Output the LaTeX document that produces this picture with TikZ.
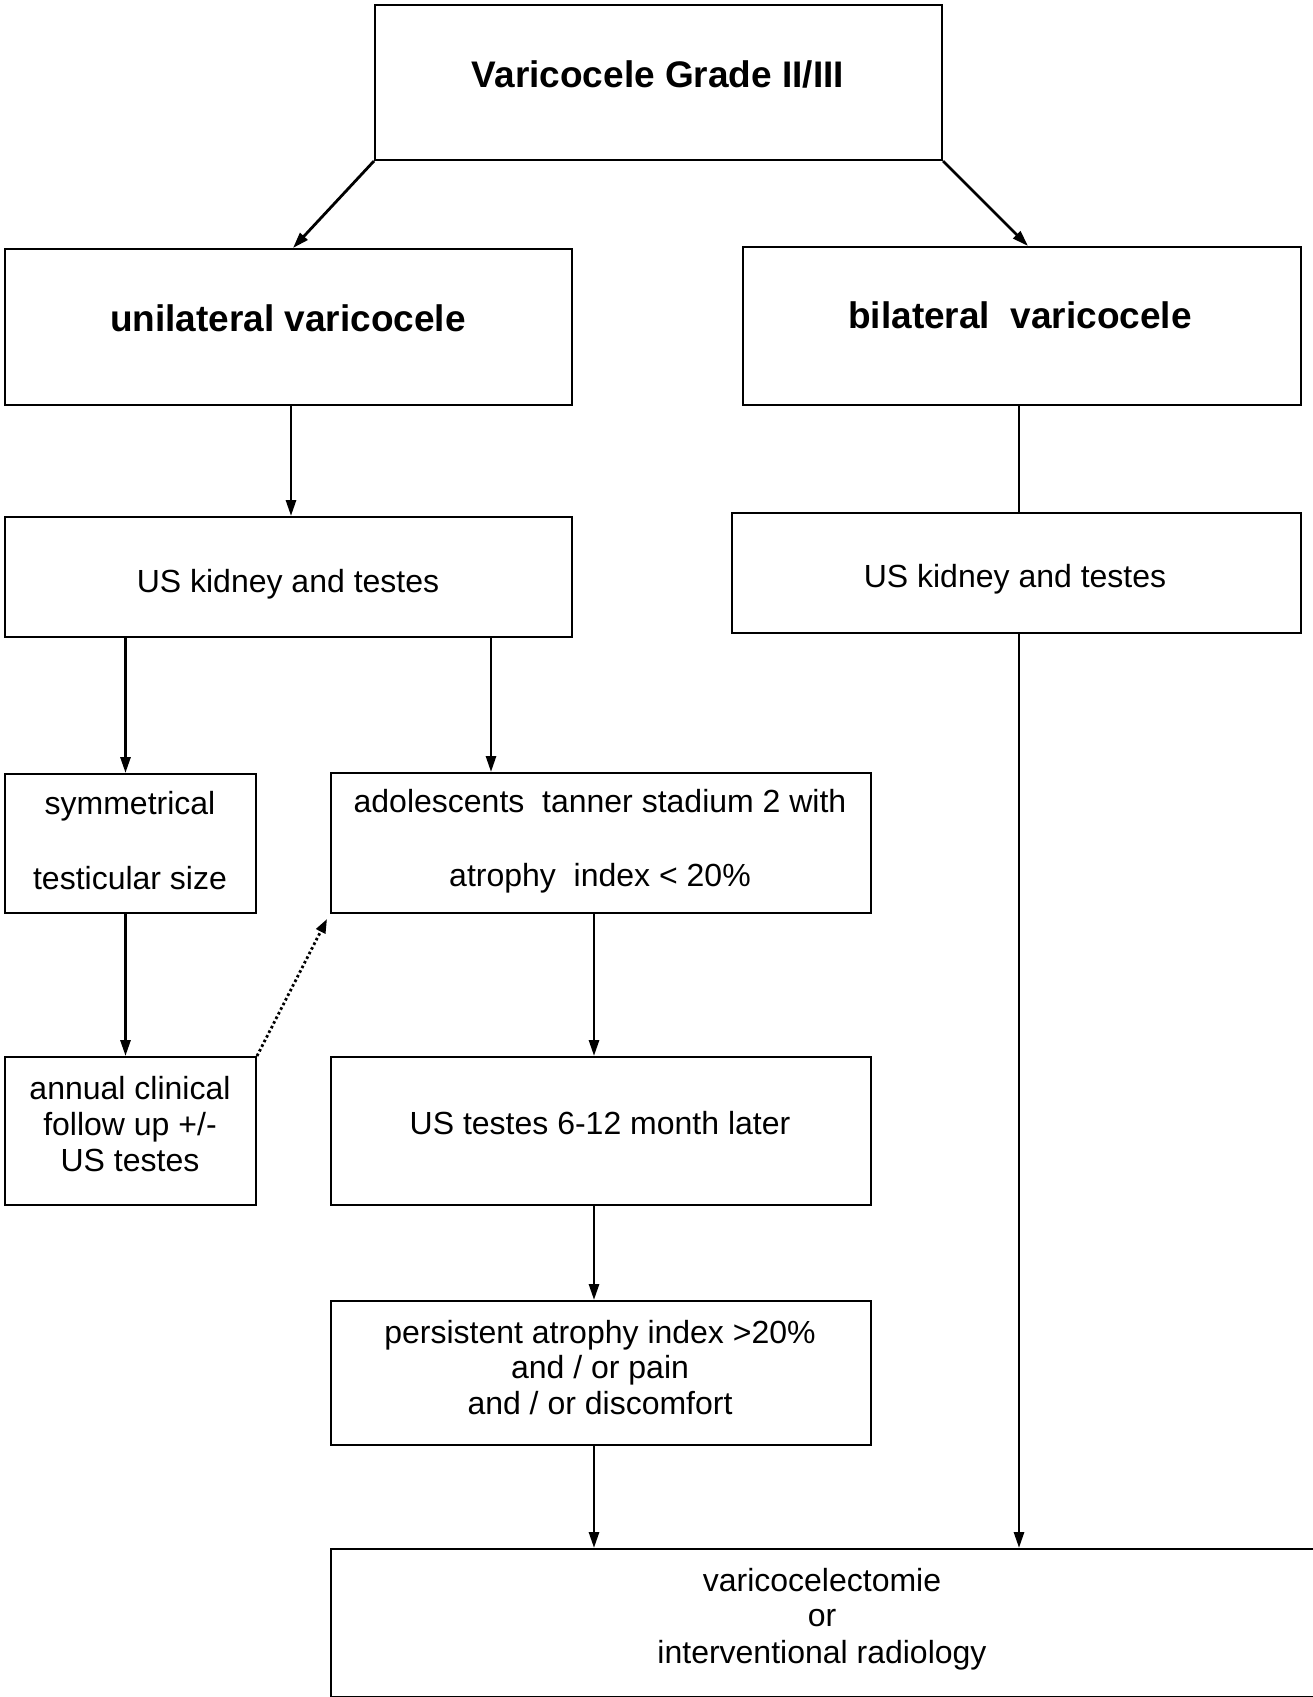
\documentclass[tikz,border=0pt]{standalone}
\usepackage{fontspec}
\setmainfont{Liberation Sans}
\usetikzlibrary{arrows.meta,calc}
\begin{document}
\begin{tikzpicture}[x=1pt,y=-1pt,
  box/.style={draw, line width=2pt, inner sep=0pt, anchor=north west},
  txt/.style={anchor=base, inner sep=0pt, font=\fontsize{32}{36}\selectfont},
  btxt/.style={anchor=base, inner sep=0pt, font=\fontsize{37}{44}\selectfont\bfseries},
  arr/.style={line width=2.8pt, -{Triangle[length=16pt,width=10pt]}},
  plain/.style={line width=2.8pt},
  dotarr/.style={line width=2.8pt, dash pattern=on 2.6pt off 2.6pt, -{Triangle[length=14pt,width=10pt]}}
]
\useasboundingbox (0,0) rectangle (1313,1697);
% boxes
\node[box, minimum width=567pt, minimum height=155pt] (top) at (374,4) {};
\node[box, minimum width=567pt, minimum height=156pt] (uni) at (4,248) {};
\node[box, minimum width=558pt, minimum height=158pt] (bil) at (742,246) {};
\node[box, minimum width=567pt, minimum height=120pt] (usL) at (4,516) {};
\node[box, minimum width=569pt, minimum height=120pt] (usR) at (731,512) {};
\node[box, minimum width=251pt, minimum height=139pt] (sym) at (4,773) {};
\node[box, minimum width=540pt, minimum height=140pt] (ado) at (330,772) {};
\node[box, minimum width=251pt, minimum height=148pt] (ann) at (4,1056) {};
\node[box, minimum width=540pt, minimum height=148pt] (ust) at (330,1056) {};
\node[box, minimum width=540pt, minimum height=144pt] (pers) at (330,1300) {};
\node[box, minimum width=990pt, minimum height=148pt] (fin) at (330,1548) {};
% texts
\node[btxt] (t1) at (658,87) {Varicocele Grade II/III};
\node[btxt] (t2) at (288,331) {unilateral varicocele};
\node[btxt] (t3) at (1020,328) {bilateral\ \ varicocele};
\node[txt] (t4) at (288,592) {US kidney and testes};
\node[txt] (t5) at (1015,587) {US kidney and testes};
\node[txt] (t6a) at (130,814) {symmetrical};
\node[txt] (t6b) at (130,889) {testicular size};
\node[txt] (t7a) at (600,812) {adolescents\ \ tanner stadium 2 with};
\node[txt] (t7b) at (600,886) {atrophy\ \ index < 20\%};
\node[txt] (t8a) at (130,1099) {annual clinical};
\node[txt] (t8b) at (130,1135) {follow up +/-};
\node[txt] (t8c) at (130,1171) {US testes};
\node[txt] (t9) at (600,1134) {US testes 6-12 month later};
\node[txt] (t10a) at (600,1343) {persistent atrophy index >20\%};
\node[txt] (t10b) at (600,1378) {and / or pain};
\node[txt] (t10c) at (600,1414) {and / or discomfort};
\node[txt] (t11a) at (822,1591) {varicocelectomie};
\node[txt] (t11b) at (822,1626) {or};
\node[txt] (t11c) at (822,1663) {interventional radiology};
% helper x positions
\coordinate (xu) at (291,0);
\coordinate (xb) at (1019,0);
\coordinate (xs) at (125.5,0);
\coordinate (xa) at (491,0);
\coordinate (xc) at (594,0);
\coordinate (ul) at (293,0);
\coordinate (ur) at (1028,0);
% connectors
\draw[arr] (top.south west) -- (uni.north -| ul);
\draw[arr] (top.south east) -- (bil.north -| ur);
\draw[arr] (uni.south -| xu) -- (usL.north -| xu);
\draw[plain] (bil.south -| xb) -- (usR.north -| xb);
\draw[arr] (usR.south -| xb) -- (fin.north -| xb);
\draw[arr] (usL.south -| xs) -- (sym.north -| xs);
\draw[arr] (usL.south -| xa) -- (ado.north -| xa);
\draw[arr] (sym.south -| xs) -- (ann.north -| xs);
\draw[arr] (ado.south -| xc) -- (ust.north -| xc);
\draw[arr] (ust.south -| xc) -- (pers.north -| xc);
\draw[arr] (pers.south -| xc) -- (fin.north -| xc);
\draw[dotarr] (ann.north east) -- ([xshift=-3pt,yshift=-5pt]ado.south west);
\end{tikzpicture}
\end{document}
